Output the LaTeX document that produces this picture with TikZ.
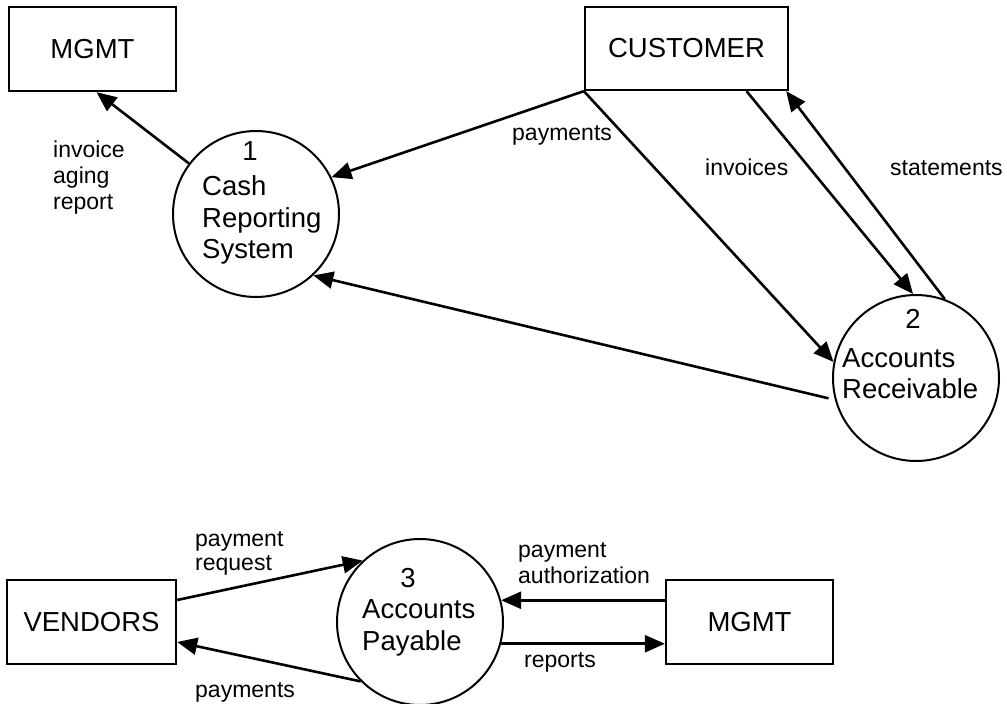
\documentclass[tikz,border=0pt]{standalone}
\usepackage{fontspec}
\setmainfont{Liberation Sans}
\usetikzlibrary{arrows.meta,calc}
\tikzset{
  entity/.style={draw, line width=2.3pt, rectangle, inner sep=0pt, font=\fontsize{27.5}{31}\selectfont},
  proc/.style={draw, line width=2pt, circle, minimum size=166pt, inner sep=0pt},
  ptext/.style={anchor=base west, inner sep=0pt, font=\fontsize{27.5}{31}\selectfont},
  pnum/.style={anchor=base, inner sep=0pt, font=\fontsize{27.5}{31}\selectfont},
  lbl/.style={anchor=base west, inner sep=0pt, font=\fontsize{23}{26}\selectfont},
  flow/.style={line width=2.6pt, -{Triangle[length=20pt,width=17pt]}},
  plain/.style={line width=2.6pt}
}
\begin{document}
\begin{tikzpicture}[x=1pt,y=-1pt]
\useasboundingbox (0,0) rectangle (1007,704);
% entities
\node[entity, minimum width=167pt, minimum height=84pt] (m1) at (92.5,49) {MGMT};
\node[entity, minimum width=203pt, minimum height=83pt] (cust) at (686.5,48.5) {CUSTOMER};
\node[entity, minimum width=169pt, minimum height=84pt] (v) at (91.5,622) {VENDORS};
\node[entity, minimum width=167pt, minimum height=84pt] (m2) at (749.5,622) {MGMT};
% processes
\node[proc] (c1) at (256,214) {};
\node[proc] (c2) at (916,378) {};
\node[proc] (c3) at (420,622) {};
% process texts
\node[pnum] (n1) at (250,160) {1};
\node[ptext] (t1a) at (202,195) {Cash};
\node[ptext] (t1b) at (202,227) {Reporting};
\node[ptext] (t1c) at (202,258) {System};
\node[pnum] (n2) at (913,328) {2};
\node[ptext] (t2a) at (842,367) {Accounts};
\node[ptext] (t2b) at (842,398) {Receivable};
\node[pnum] (n3) at (408,587) {3};
\node[ptext] (t3a) at (362,618) {Accounts};
\node[ptext] (t3b) at (362,650) {Payable};
% flows top
\draw[flow] (c1.143) -- ([xshift=4pt]m1.south);
\draw[flow] (cust.south west) -- (c1.26);
\draw[flow] (cust.south west) -- (c2.169);
\draw[flow] ([xshift=60pt]cust.south) -- (c2.92);
\draw[flow] (c2.70) -- ([xshift=-3pt]cust.south east);
\draw[flow] ([xshift=-6pt]c2.194) -- (c1.313);
% flows bottom
\draw[flow] ([yshift=22pt]v.east) -- (c3.133);
\draw[flow] (c3.225) -- ([yshift=-20pt]v.east);
\draw[flow] (m2.west |- c3.15) -- (c3.15);
\draw[flow] (c3.-15) -- (c3.-15 -| m2.west);
% labels
\node[lbl, align=left] (l1) at (53,157) {invoice};
\node[lbl] (l1b) at (53,183) {aging};
\node[lbl] (l1c) at (53,209) {report};
\node[lbl] (l2) at (512,140) {payments};
\node[lbl] (l3) at (705,175) {invoices};
\node[lbl] (l4) at (890,175) {statements};
\node[lbl] (l5a) at (195,546) {payment};
\node[lbl] (l5b) at (195,570) {request};
\node[lbl] (l6a) at (518,557) {payment};
\node[lbl] (l6b) at (518,583) {authorization};
\node[lbl] (l7) at (524,667) {reports};
\node[lbl] (l8) at (195,697) {payments};
\end{tikzpicture}
\end{document}
